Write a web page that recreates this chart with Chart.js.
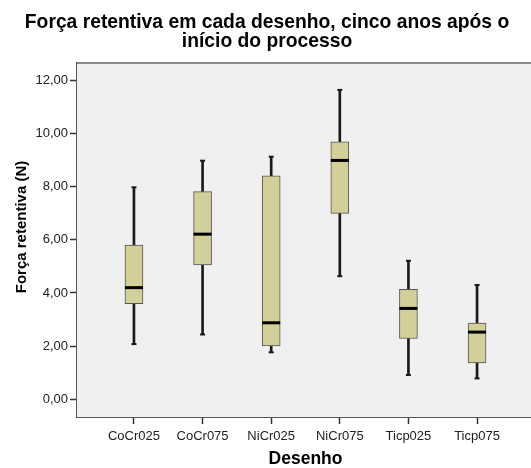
<!DOCTYPE html>
<html>
<head>
<meta charset="utf-8">
<script src="https://cdn.jsdelivr.net/npm/chart.js@4/dist/chart.umd.min.js"></script>
<style>
  html, body { margin: 0; padding: 0; background: #ffffff; overflow: hidden; }
  #chart { position: absolute; left: 0; top: 0; }
</style>
</head>
<body>
<canvas id="chart" width="540" height="468"></canvas>
<script>
// Retentive force (N) per design, five years after the start
const categories  = ['CoCr025', 'CoCr075', 'NiCr025', 'NiCr075', 'Ticp025', 'Ticp075'];
const whiskerLow  = [2.08, 2.44, 1.77, 4.63, 0.92, 0.79];
const quartile1   = [3.60, 5.05, 2.01, 6.99, 2.29, 1.37];
const medians     = [4.20, 6.21, 2.88, 8.98, 3.42, 2.53];
const quartile3   = [5.80, 7.81, 8.40, 9.68, 4.14, 2.87];
const whiskerHigh = [7.97, 8.97, 9.12, 11.63, 5.21, 4.30];
const yTicks      = [0, 2, 4, 6, 8, 10, 12];

const FONT = "'Liberation Sans', Arial, sans-serif";

const boxData   = categories.map((c, i) => ({ x: i, y: [quartile1[i], quartile3[i]] }));
const lowerLine = categories.map((c, i) => ({ x: i, y: [whiskerLow[i], quartile1[i]] }));
const upperLine = categories.map((c, i) => ({ x: i, y: [quartile3[i], whiskerHigh[i]] }));
const lowCaps   = categories.map((c, i) => ({ x: i, y: whiskerLow[i] }));
const highCaps  = categories.map((c, i) => ({ x: i, y: whiskerHigh[i] }));
const medPoints = categories.map((c, i) => ({ x: i, y: medians[i] }));

// Plot panel background and top frame line
const panel = {
  id: 'panel',
  beforeDatasetsDraw(chart) {
    const { ctx, chartArea: a } = chart;
    ctx.save();
    ctx.fillStyle = '#f0f0f0';
    ctx.fillRect(a.left, a.top, a.right - a.left, a.bottom - a.top);
    ctx.strokeStyle = '#8a8a8a';
    ctx.lineWidth = 2;
    ctx.beginPath();
    ctx.moveTo(a.left, a.top);
    ctx.lineTo(a.right, a.top);
    ctx.stroke();
    ctx.restore();
  }
};

// Vertical axis title
const yTitle = {
  id: 'yTitle',
  afterDraw(chart) {
    const { ctx } = chart;
    ctx.save();
    ctx.translate(22, 227);
    ctx.rotate(-Math.PI / 2);
    ctx.font = 'bold 15px ' + FONT;
    ctx.fillStyle = '#000000';
    ctx.textAlign = 'center';
    ctx.textBaseline = 'middle';
    ctx.fillText('Força retentiva (N)', 0, 0);
    ctx.restore();
  }
};

const lineColor = '#1a1a1a';

new Chart(document.getElementById('chart'), {
  type: 'bar',
  data: {
    datasets: [
      {
        type: 'bar', data: lowerLine, grouped: false, barThickness: 2,
        backgroundColor: lineColor, borderWidth: 0, order: 3
      },
      {
        type: 'bar', data: upperLine, grouped: false, barThickness: 2,
        backgroundColor: lineColor, borderWidth: 0, order: 3
      },
      {
        type: 'scatter', data: lowCaps, pointStyle: 'line', radius: 2.5,
        borderColor: lineColor, borderWidth: 2, order: 3
      },
      {
        type: 'scatter', data: highCaps, pointStyle: 'line', radius: 2.5,
        borderColor: lineColor, borderWidth: 2, order: 3
      },
      {
        type: 'bar', data: boxData, grouped: false, barThickness: 18,
        backgroundColor: '#d3cf99', borderColor: '#555555', borderWidth: 1,
        borderSkipped: false, order: 2
      },
      {
        type: 'scatter', data: medPoints, pointStyle: 'line', radius: 9,
        borderColor: '#000000', borderWidth: 3, order: 1
      }
    ]
  },
  options: {
    responsive: false,
    animation: false,
    devicePixelRatio: 1,
    // the panel runs on past the right edge of the window
    layout: { padding: { left: 0, top: 0, bottom: 0, right: 6 }, autoPadding: false },
    plugins: {
      legend: { display: false },
      tooltip: { enabled: false },
      title: {
        display: true,
        text: ['Força retentiva em cada desenho, cinco anos após o', 'início do processo'],
        color: '#000000',
        font: { family: FONT, size: 19.3, weight: 'bold', lineHeight: 0.985 },
        padding: { top: 13, bottom: 12 }
      }
    },
    scales: {
      x: {
        type: 'linear',
        offset: false,
        min: -0.83,
        max: 5.83,
        afterBuildTicks: s => { s.ticks = categories.map((c, i) => ({ value: i })); },
        afterFit: s => { s.height = 51; s.paddingLeft = 0; s.paddingRight = 0; },
        ticks: {
          callback: v => categories[v],
          color: '#222222',
          font: { family: FONT, size: 13 },
          padding: 5,
          maxRotation: 0,
          autoSkip: false
        },
        grid: { offset: false, drawOnChartArea: false, drawTicks: true, tickLength: 7, tickColor: '#333333', tickWidth: 1.5 },
        border: { color: '#555555', width: 2 },
        title: {
          display: true,
          text: 'Desenho',
          color: '#000000',
          font: { family: FONT, size: 17.5, weight: 'bold', lineHeight: 1.0 },
          padding: { top: 0, bottom: 0 }
        }
      },
      y: {
        type: 'linear',
        min: -0.66,
        max: 12.64,
        afterBuildTicks: s => { s.ticks = yTicks.map(v => ({ value: v })); },
        afterFit: s => { s.width = 77; s.paddingTop = 0; s.paddingBottom = 0; },
        ticks: {
          callback: v => v.toFixed(2).replace('.', ','),
          color: '#222222',
          font: { family: FONT, size: 13 },
          padding: 2
        },
        grid: { drawOnChartArea: false, drawTicks: true, tickLength: 7, tickColor: '#333333', tickWidth: 1.5 },
        border: { color: '#555555', width: 2 }
      }
    }
  },
  plugins: [panel, yTitle]
});
</script>
</body>
</html>
